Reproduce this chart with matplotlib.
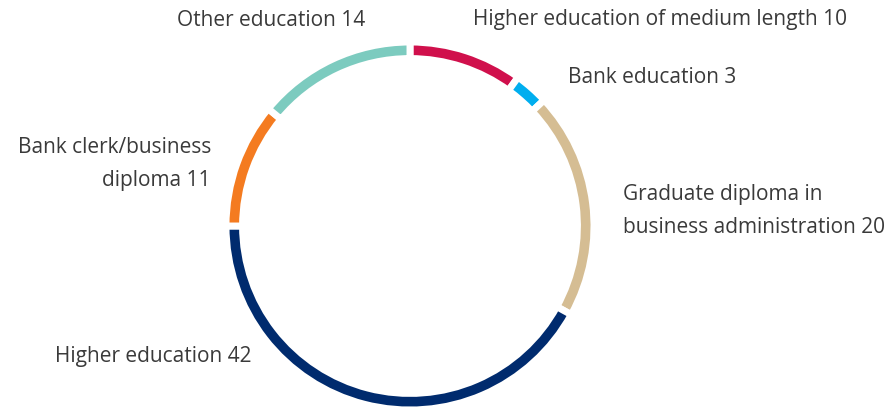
import matplotlib.pyplot as plt

labels = ["Higher education of medium length", "Bank education",
          "Graduate diploma in\nbusiness administration", "Higher education",
          "Bank clerk/business\ndiploma", "Other education"]
values = [10, 3, 20, 42, 11, 14]
colors = ["#d0104c", "#00aeef", "#d5bd93", "#002b6e", "#f47b20", "#7ccbbf"]

W, H = 893, 410
fig = plt.figure(figsize=(W / 100, H / 100), dpi=100)
fig.patch.set_facecolor("white")

# ring centre (410, 227) px from top-left; white edge eats ~3.5px of the outer radius
cx, cy, r = 410, 227, 184
ax = fig.add_axes([(cx - r) / W, (H - cy - r) / H, 2 * r / W, 2 * r / H])
ax.pie(values, colors=colors, startangle=90, counterclock=False,
       wedgeprops=dict(width=0.09, edgecolor="white", linewidth=5))
ax.set_aspect("equal")
ax.set_xlim(-1, 1)
ax.set_ylim(-1, 1)

txt = dict(fontsize=15, color="#3a3a3a", family="Open Sans", linespacing=1.75)
# label anchors in pixels (x, y centre, alignment)
pos = [(473, 20, "left"), (568, 78, "left"), (623, 211, "left"),
       (252, 357, "right"), (211, 164, "right"), (365, 20, "right")]
for lab, v, (x, y, ha) in zip(labels, values, pos):
    fig.text(x / W, 1 - y / H, f"{lab} {v}", ha=ha, va="center",
             multialignment=ha, **txt)

fig.savefig("out.png", dpi=100)
